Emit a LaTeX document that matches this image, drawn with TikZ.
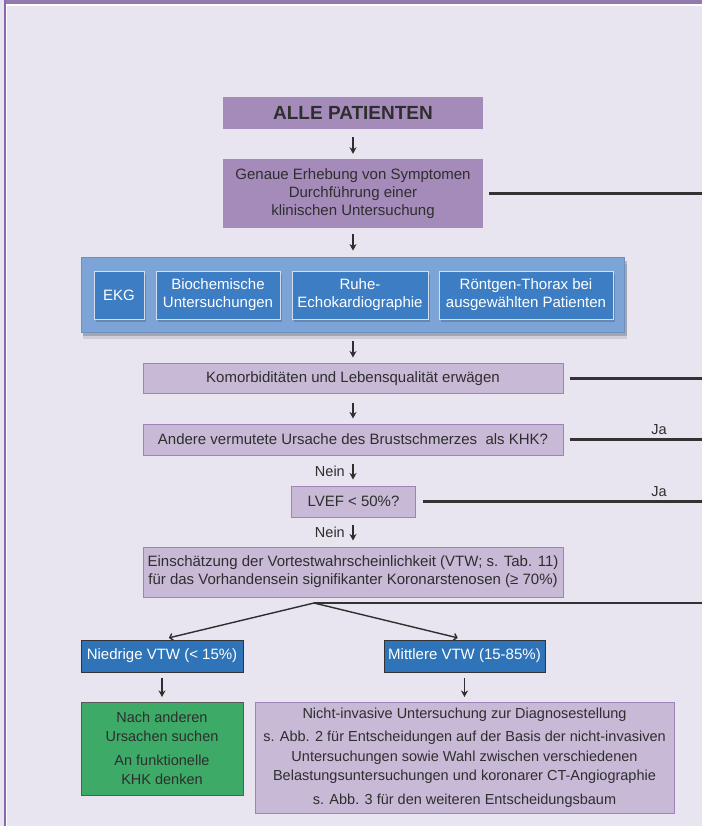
\documentclass[tikz,border=0pt]{standalone}
\usepackage{fontspec}
\setmainfont{Liberation Sans}
\usetikzlibrary{arrows.meta,shadows}

\definecolor{pagebg}{HTML}{E8E5F0}
\definecolor{hdr}{HTML}{9479AC}
\definecolor{rimline}{HTML}{8A68AE}
\definecolor{midpurple}{HTML}{A58BBA}
\definecolor{lightpurple}{HTML}{C8B9D6}
\definecolor{lightpurpleedge}{HTML}{9F82B8}
\definecolor{panelblue}{HTML}{7CA4D6}
\definecolor{paneledge}{HTML}{6A90C4}
\definecolor{itemblue}{HTML}{3D7DC3}
\definecolor{itemedge}{HTML}{D3DFF1}
\definecolor{vtwblue}{HTML}{2F74B8}
\definecolor{greenbox}{HTML}{3DAA68}
\definecolor{txt}{HTML}{2E2E2E}

\tikzset{
  basefont/.style={font=\fontsize{15}{18}\selectfont},
  topbox/.style={fill=midpurple, draw=none, text=txt, align=center, inner sep=0pt, basefont},
  lbox/.style={fill=lightpurple, draw=lightpurpleedge, line width=1pt, text=txt, align=center, inner sep=0pt, basefont},
  panelbox/.style={fill=panelblue, draw=paneledge, line width=0.8pt,
    drop shadow={shadow xshift=2pt, shadow yshift=-7pt, opacity=0.1, fill=black},
    drop shadow={shadow xshift=2pt, shadow yshift=-4pt, opacity=0.2, fill=black}},
  itembox/.style={fill=itemblue, draw=itemedge, line width=0.9pt, text=white, align=center, inner sep=0pt, basefont,
    drop shadow={shadow xshift=2pt, shadow yshift=-3pt, opacity=0.25, fill=black!80}},
  vtwbox/.style={fill=vtwblue, draw=black!80, line width=1pt, text=white, align=center, inner sep=0pt, basefont},
  gbox/.style={fill=greenbox, draw=black!65, line width=1pt, text=txt, align=center, inner sep=0pt, basefont},
  arr/.style={draw=txt, line width=1.6pt, -{Stealth[length=6.5pt,width=7pt,inset=2pt]}},
  darr/.style={draw=txt, line width=1.4pt, -{Straight Barb[length=3pt,width=7pt]}},
  rline/.style={draw=black!80, line width=2.1pt},
  lbl/.style={text=txt, inner sep=0pt, font=\fontsize{14.5}{17}\selectfont},
}

\begin{document}
\begin{tikzpicture}[x=1pt,y=-1pt]
  % page and frame
  \fill[pagebg] (0,0) rectangle (702,826);
  \useasboundingbox (0,0) rectangle (702,826);
  \fill[hdr] (4,0) rectangle (702,4.2);
  \fill[white] (4,4.2) rectangle (702,6.2);
  \fill[rimline] (4,0) rectangle (5.6,826);
  \fill[white] (5.6,6.2) rectangle (6.6,826);
  \coordinate (rim) at (702,0);

  % main column
  \node[topbox, minimum width=260, minimum height=32] (alle) at (353,113)
    {\bfseries\fontsize{19}{22}\selectfont ALLE PATIENTEN};
  \node[topbox, minimum width=260, minimum height=69] (genaue) at (353,193.5)
    {Genaue Erhebung von Symptomen\\Durchführung einer\\klinischen Untersuchung};

  \node[panelbox, minimum width=543.5, minimum height=75, inner sep=0pt] (panel) at (353,294.5) {};
  \node[itembox, minimum width=50, minimum height=48] (ekg) at (119,295) {EKG};
  \node[itembox, minimum width=124, minimum height=48] (bio) at (218,295) {Biochemische\\Untersuchungen};
  \node[itembox, minimum width=136, minimum height=48] (ruhe) at (360,295) {Ruhe-\\Echokardiographie};
  \node[itembox, minimum width=174, minimum height=48] (roent) at (526,295) {Röntgen-Thorax bei\\ausgewählten Patienten};

  \node[lbox, minimum width=420, minimum height=30] (komorb) at (353,378.5)
    {Komorbiditäten und Lebensqualität erwägen};
  \node[lbox, minimum width=420, minimum height=31] (andere) at (353,439.5)
    {Andere vermutete Ursache des Brustschmerzes\ \ als KHK?};
  \node[lbox, minimum width=124, minimum height=31] (lvef) at (353.5,501.5) {LVEF < 50\%?};
  \node[lbox, minimum width=420, minimum height=50] (einsch) at (353,572)
    {Einschätzung der Vortestwahrscheinlichkeit (VTW; s. Tab. 11)\\für das Vorhandensein signifikanter Koronarstenosen (≥ 70\%)};

  \node[vtwbox, minimum width=162, minimum height=32] (niedrig) at (162,656) {Niedrige VTW (< 15\%)};
  \node[vtwbox, minimum width=161, minimum height=32] (mittl) at (464.5,656) {Mittlere VTW (15-85\%)};

  \node[gbox, minimum width=162, minimum height=93, font=\fontsize{14.5}{19}\selectfont] (gruen) at (162,748.5)
    {Nach anderen\\Ursachen suchen\\[5pt]An funktionelle\\KHK denken};
  \node[lbox, minimum width=419, minimum height=111, font=\fontsize{14.5}{19.5}\selectfont] (nichtinv) at (464.5,757.5)
    {Nicht-invasive Untersuchung zur Diagnosestellung\\[4pt]
     s. Abb. 2 für Entscheidungen auf der Basis der nicht-invasiven\\
     Untersuchungen sowie Wahl zwischen verschiedenen\\
     Belastungsuntersuchungen und koronarer CT-Angiographie\\[4pt]
     s. Abb. 3 für den weiteren Entscheidungsbaum};

  % downward arrows
  \draw[arr, shorten <=8pt, shorten >=5pt] (alle.south) -- (genaue.north);
  \draw[arr, shorten <=6pt, shorten >=6pt] (genaue.south) -- (panel.south |- panel.north);
  \draw[arr, shorten <=9pt, shorten >=5.5pt] (panel.south) -- (komorb.north);
  \draw[arr, shorten <=8.5pt, shorten >=5pt] (komorb.south) -- (andere.north);
  \draw[arr, shorten <=8pt, shorten >=6pt] (andere.south) -- (andere.south |- lvef.north);
  \draw[arr, shorten <=7pt, shorten >=6pt] (lvef.south -| einsch.north) -- (einsch.north);
  \draw[arr, shorten <=5pt, shorten >=4.5pt] (niedrig.south) -- (gruen.north);
  \draw[arr, shorten <=5pt, shorten >=4.5pt] (mittl.south) -- (nichtinv.north);

  \node[lbl, anchor=east] (nein1) at (345,471.5) {Nein};
  \node[lbl, anchor=east] (nein2) at (345,532.5) {Nein};

  % branches to the right edge
  \draw[rline, shorten <=6pt] (genaue.east) -- (genaue.east -| rim);
  \draw[rline, shorten <=6pt] (komorb.east) -- (komorb.east -| rim);
  \draw[rline, shorten <=6pt] (andere.east) -- (andere.east -| rim);
  \draw[rline, shorten <=6.5pt] (lvef.east) -- (lvef.east -| rim);
  \node[lbl] (ja1) at (659,430) {Ja};
  \node[lbl] (ja2) at (659,492) {Ja};

  % split by pre-test probability
  \coordinate (apex) at (314,603);
  \draw[rline] (apex) -- (apex -| rim);
  \draw[darr, shorten >=7pt] (apex) -- (niedrig.north);
  \draw[darr, shorten >=7pt] (apex) -- (mittl.north);
\end{tikzpicture}
\end{document}
